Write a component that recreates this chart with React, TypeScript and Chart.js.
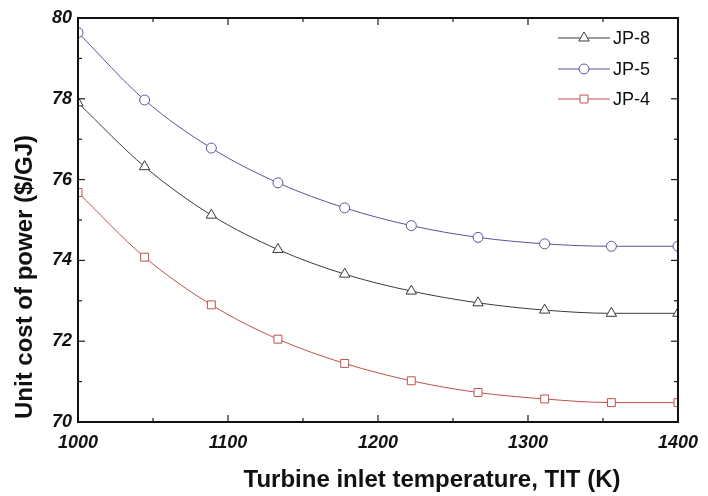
import React, { useEffect, useRef } from "react";
import { Chart, registerables } from "chart.js";

Chart.register(...registerables);

const TEMPS = [1000, 1044.4, 1088.9, 1133.3, 1177.8, 1222.2, 1266.7, 1311.1, 1355.6, 1400];
const JP8 = [77.9, 76.32, 75.12, 74.27, 73.66, 73.24, 72.95, 72.77, 72.69, 72.69];
const JP5 = [79.64, 77.97, 76.78, 75.92, 75.3, 74.86, 74.57, 74.41, 74.35, 74.35];
const JP4 = [75.68, 74.08, 72.9, 72.05, 71.45, 71.02, 70.73, 70.57, 70.48, 70.48];

const SERIES_NAMES = ["JP-8", "JP-5", "JP-4"];
const SERIES_VALUES = [JP8, JP5, JP4];
const SERIES_COLORS = ["#3a3a3a", "#55559a", "#c0504d"];
const SERIES_MARKERS = ["triangle", "circle", "rect"];
const SERIES_RADII = [6, 5, 5.6];

const X_MAJOR = [1000, 1100, 1200, 1300, 1400];
const X_MINOR = [1050, 1150, 1250, 1350];
const Y_MAJOR = [70, 72, 74, 76, 78, 80];
const Y_MINOR = [71, 73, 75, 77, 79];

const X_TITLE = "Turbine inlet temperature, TIT (K)";
const Y_TITLE = "Unit cost of power ($/GJ)";

const FONT = "'Liberation Sans', Arial, sans-serif";

function drawMarker(ctx: CanvasRenderingContext2D, style: string, x: number, y: number, r: number) {
  ctx.beginPath();
  if (style === "circle") {
    ctx.arc(x, y, r, 0, Math.PI * 2);
  } else if (style === "rect") {
    const s = r * Math.SQRT1_2;
    ctx.rect(x - s, y - s, 2 * s, 2 * s);
  } else {
    const h = r * 1.5;
    const w = r * 0.866 * 2;
    ctx.moveTo(x, y - r);
    ctx.lineTo(x + w / 2, y - r + h);
    ctx.lineTo(x - w / 2, y - r + h);
    ctx.closePath();
  }
  ctx.fillStyle = "#ffffff";
  ctx.fill();
  ctx.stroke();
}

const framePlugin = {
  id: "framePlugin",
  afterDraw(chart: any) {
    const { ctx, chartArea, scales } = chart;
    const { left, right, top, bottom } = chartArea;
    const xs = scales.x;
    const ys = scales.y;
    ctx.save();
    ctx.strokeStyle = "#1a1a1a";
    ctx.lineWidth = 1.2;
    const tick = (x1: number, y1: number, x2: number, y2: number) => {
      ctx.beginPath();
      ctx.moveTo(x1, y1);
      ctx.lineTo(x2, y2);
      ctx.stroke();
    };
    X_MAJOR.forEach((v) => {
      const px = xs.getPixelForValue(v);
      tick(px, bottom, px, bottom - 7);
      tick(px, top, px, top + 7);
    });
    X_MINOR.forEach((v) => {
      const px = xs.getPixelForValue(v);
      tick(px, bottom, px, bottom - 4);
      tick(px, top, px, top + 4);
    });
    Y_MAJOR.forEach((v) => {
      const py = ys.getPixelForValue(v);
      tick(left, py, left + 7, py);
      tick(right, py, right - 7, py);
    });
    Y_MINOR.forEach((v) => {
      const py = ys.getPixelForValue(v);
      tick(left, py, left + 4, py);
      tick(right, py, right - 4, py);
    });
    ctx.lineWidth = 2;
    ctx.strokeStyle = "#111";
    ctx.strokeRect(left, top, right - left, bottom - top);

    // titles
    ctx.fillStyle = "#111";
    ctx.font = `bold 24px ${FONT}`;
    ctx.textAlign = "center";
    ctx.textBaseline = "middle";
    ctx.fillText(X_TITLE, 432, 480);
    ctx.save();
    ctx.translate(25, 277);
    ctx.rotate(-Math.PI / 2);
    ctx.fillText(Y_TITLE, 0, 0);
    ctx.restore();

    // legend
    ctx.font = `18px ${FONT}`;
    ctx.textAlign = "left";
    ctx.textBaseline = "middle";
    const legendY = [38, 69, 99];
    SERIES_NAMES.forEach((name, i) => {
      const y = legendY[i];
      ctx.strokeStyle = SERIES_COLORS[i];
      ctx.lineWidth = 1;
      ctx.beginPath();
      ctx.moveTo(558, y);
      ctx.lineTo(610, y);
      ctx.stroke();
      drawMarker(ctx, SERIES_MARKERS[i], 584, y, SERIES_RADII[i]);
      ctx.fillStyle = "#111";
      ctx.fillText(name, 613, y + 1);
    });
    ctx.restore();
  },
};

export default function App() {
  const ref = useRef<HTMLCanvasElement>(null);
  useEffect(() => {
    if (!ref.current) return;
    const datasets = SERIES_NAMES.map((name, i) => ({
      label: name,
      data: TEMPS.map((t, j) => ({ x: t, y: SERIES_VALUES[i][j] })),
      borderColor: SERIES_COLORS[i],
      borderWidth: 1,
      pointStyle: SERIES_MARKERS[i],
      pointRadius: SERIES_RADII[i],
      pointBorderColor: SERIES_COLORS[i],
      pointBackgroundColor: "#ffffff",
      pointBorderWidth: 1,
      cubicInterpolationMode: "monotone",
      clip: 0,
      fill: false,
    }));
    const chart = new Chart(ref.current, {
      type: "line",
      data: { datasets: datasets as any },
      options: {
        animation: false,
        responsive: false,
        layout: { padding: { left: 0, right: 27, top: 18, bottom: 0 } },
        plugins: { legend: { display: false }, tooltip: { enabled: false } },
        scales: {
          x: {
            type: "linear",
            min: 1000,
            max: 1400,
            grid: { display: false, drawTicks: false },
            border: { display: false },
            ticks: {
              stepSize: 100,
              padding: 10,
              color: "#111",
              font: { family: FONT, size: 18, weight: "bold", style: "italic" },
              callback: (v: any) => String(v),
            },
            afterFit: (s: any) => {
              s.height = 74;
            },
          },
          y: {
            type: "linear",
            min: 70,
            max: 80,
            grid: { display: false, drawTicks: false },
            border: { display: false },
            ticks: {
              stepSize: 2,
              padding: 6,
              color: "#111",
              font: { family: FONT, size: 18, weight: "bold", style: "italic" },
            },
            afterFit: (s: any) => {
              s.width = 78;
            },
          },
        },
      },
      plugins: [framePlugin],
    });
    return () => chart.destroy();
  }, []);
  return (
    <div style={{ position: "absolute", left: 0, top: 0, width: 708, height: 496, background: "#fff" }}>
      <canvas ref={ref} width={708} height={496} />
    </div>
  );
}
